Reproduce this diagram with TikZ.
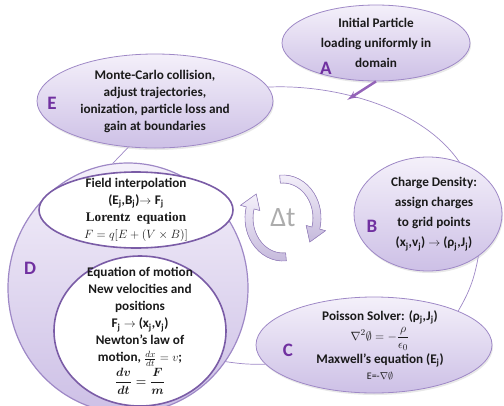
\documentclass[tikz,border=0pt]{standalone}
\usepackage{amsmath,amssymb}
\usepackage{fontspec}
\setmainfont{Carlito}
\newfontfamily\cambria{Liberation Serif}
\usepackage{tikz}
\usetikzlibrary{positioning, shapes.geometric, arrows, shadows}

\definecolor{lavline}{RGB}{158,136,198}
\definecolor{lavtop}{RGB}{244,240,250}
\definecolor{lavbot}{RGB}{205,192,230}
\definecolor{ringline}{RGB}{122,92,166}
\definecolor{lettercol}{RGB}{112,48,160}
\definecolor{inkcol}{RGB}{26,26,26}

\begin{document}
\begin{tikzpicture}[x=1pt, y=-1pt, font=\fontsize{13.2}{17}\selectfont\bfseries, text=inkcol]
		% Styles
		\tikzstyle{stage} = [ellipse, draw=lavline, line width=0.8pt, top color=lavtop,
		bottom color=lavbot, align=center, inner sep=-14pt,
		drop shadow={opacity=0.18, shadow xshift=1pt, shadow yshift=-2pt}]
		\tikzstyle{bigcircle} = [ellipse, draw=lavline, line width=1.2pt, top color=lavtop,
		bottom color=lavbot, inner sep=0pt]
		\tikzstyle{inner} = [ellipse, draw=ringline, line width=1.6pt, fill=white,
		align=center, inner sep=-32pt]
		\tikzstyle{letter} = [font=\fontsize{19}{19}\selectfont\bfseries, text=lettercol]
		\tikzstyle{link} = [draw=lavline, line width=0.7pt]
		\tikzstyle{line} = [draw=lettercol!75, line width=2.5pt, -latex']
		\tikzstyle{spin} = [draw=lavline, line width=0.6pt, top color=lavtop, bottom color=lavbot!90!gray]

		\useasboundingbox (0,0) rectangle (504,405);

		% Nodes
		\node [stage, minimum width=188, minimum height=76] (init) at (376,43)
		{Initial Particle\\[3pt] loading uniformly in\\[3pt] domain};
		\node [stage, minimum width=236, minimum height=94] (collide) at (155,101)
		{Monte-Carlo collision,\\ adjust trajectories,\\ ionization, particle loss and\\ gain at boundaries};
		\node [stage, minimum width=148, minimum height=114] (charge) at (428,214)
		{\hspace*{12pt}Charge Density:\\[3pt] \hspace*{12pt}assign charges\\[3pt] \hspace*{12pt}to grid points\\[3pt]
		\hspace*{12pt}(x\textsubscript{j},v\textsubscript{j}) $\rightarrow$ (ρ\textsubscript{j},J\textsubscript{j})};
		\node [stage, minimum width=236, minimum height=96] (poisson) at (374,345)
		{\hspace*{12pt}Poisson Solver: (ρ\textsubscript{j},J\textsubscript{j})\\[2pt]
		\hspace*{12pt}$\nabla^2\emptyset=-\dfrac{\rho}{\epsilon_0}$\\[2pt]
		\hspace*{12pt}Maxwell’s equation (E\textsubscript{j})\\[-1pt]
		\hspace*{12pt}{\fontsize{10}{12}\selectfont\mdseries E=-$\nabla\emptyset$}};
		\node [bigcircle, minimum width=240, minimum height=250] (mover) at (128,288) {};
		\node [inner, minimum width=194, minimum height=76] (field) at (136,210)
		{Field interpolation\\ (E\textsubscript{j},B\textsubscript{j})$\rightarrow\mathbf{F_j}$\\
		{\cambria Lorentz\ \ equation}\\ $F=q[E+(V\times B)]$};
		\node [inner, minimum width=172, minimum height=150] (motion) at (140,331)
		{Equation of motion\\ New velocities and\\ positions\\
		$\mathbf{F_j}\rightarrow$ (x\textsubscript{j},v\textsubscript{j})\\ Newton’s law of\\
		motion, $\frac{dx}{dt}=v$;\\[1pt] {\boldmath$\dfrac{dv}{dt}=\dfrac{F}{m}$}};

		% Letters
		\node [letter] (la) at (326,68) {A};
		\node [letter] (lb) at (372,226) {B};
		\node [letter] (lc) at (288,350) {C};
		\node [letter] (ld) at (30,268) {D};
		\node [letter] (le) at (52,103) {E};

		% Time step
		\coordinate (dt) at (283,218);
		\begin{scope}[shift={(dt)}]
			\filldraw [spin] (95:38pt and 43pt)
			arc[start angle=95, end angle=-15, x radius=38pt, y radius=43pt]
			-- (-15:44pt and 49pt) -- (-38:34pt and 39pt) -- (-15:24pt and 29pt)
			-- (-15:30pt and 35pt)
			arc[start angle=-15, end angle=95, x radius=30pt, y radius=35pt] -- cycle;
			\filldraw [spin] (275:38pt and 43pt)
			arc[start angle=275, end angle=165, x radius=38pt, y radius=43pt]
			-- (165:44pt and 49pt) -- (142:34pt and 39pt) -- (165:24pt and 29pt)
			-- (165:30pt and 35pt)
			arc[start angle=165, end angle=275, x radius=30pt, y radius=35pt] -- cycle;
		\end{scope}
		\node [font=\fontsize{28}{28}\selectfont, text=gray!65] (deltat) at (dt) {Δt};

		% Connections
		\path [link] (collide.7) .. controls (330,84) and (420,105) .. (charge.59);
		\path [link] (charge.-40) to[bend left=10] (poisson.22);
		\path [link] (poisson.190) to[bend left=5] (mover.-37);
		\path [link] (mover.97) -- (collide.240);
		\coordinate (hit) at (347,100);
		\path [line] (init.south) -- (hit);
	\end{tikzpicture}
\end{document}
